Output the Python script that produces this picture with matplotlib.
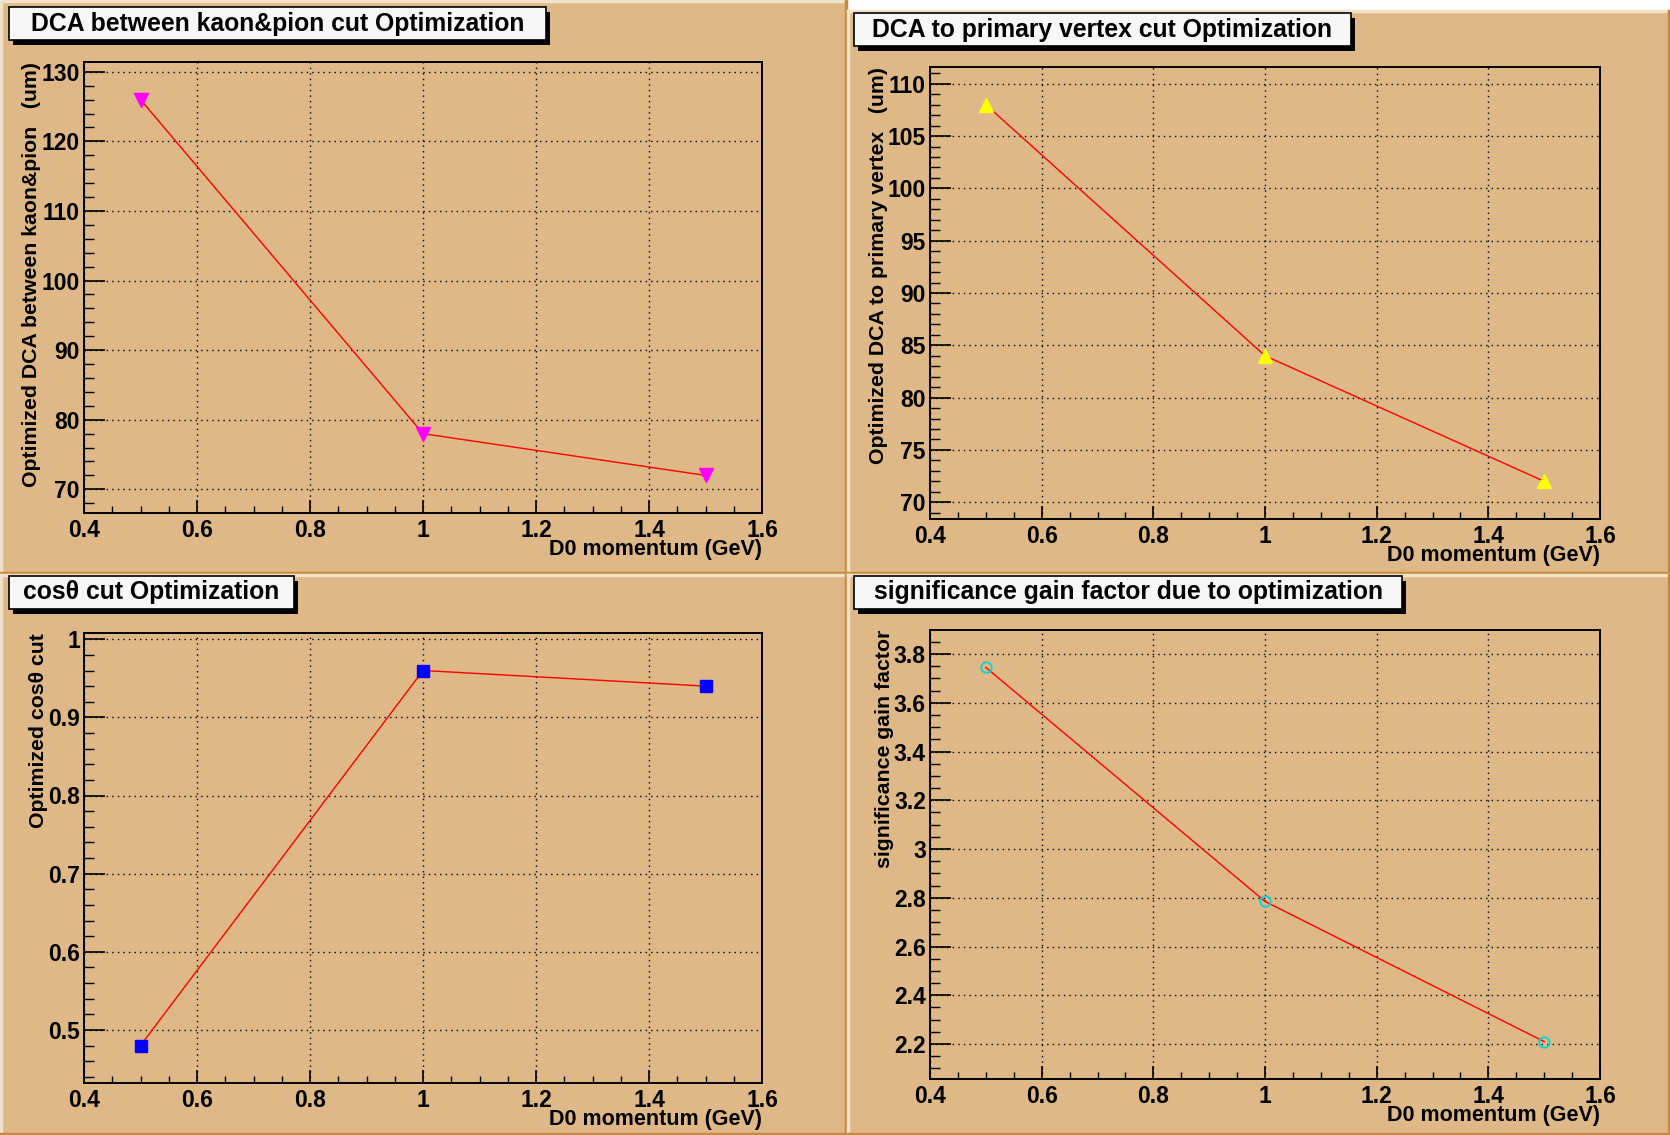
import matplotlib
matplotlib.use("Agg")
import matplotlib.pyplot as plt
from matplotlib.patches import Rectangle
from matplotlib.lines import Line2D
from matplotlib.ticker import MultipleLocator

plt.rcParams['font.family'] = ['Liberation Sans', 'DejaVu Sans']
plt.rcParams['font.weight'] = 'bold'

# D0 momentum bins (GeV)
momentum = [0.5, 1.0, 1.5]

# optimized cut values per momentum bin
dca_kpi = [126, 78, 72]
dca_pv = [108, 84, 72]
cos_theta = [0.48, 0.96, 0.94]
sig_gain = [3.745, 2.785, 2.21]

titles = ['DCA between kaon&pion cut Optimization',
          'DCA to primary vertex cut Optimization',
          'cos\u03b8 cut Optimization',
          'significance gain factor due to optimization']
ylabels = ['Optimized DCA between kaon&pion   (um)',
           'Optimized DCA to primary vertex   (um)',
           'Optimized cos\u03b8 cut',
           'significance gain factor']
xlabel = 'D0 momentum (GeV)'

W, H = 1670, 1135
BG = '#DEB887'
LIGHT = '#F2E2C8'
DARK = '#C98A38'

fig = plt.figure(figsize=(W / 100, H / 100), dpi=100, facecolor=BG)


def fx(x):
    return x / W


def fy(y):
    return 1 - y / H


def pad(x0, y0, x1, y1):
    fig.add_artist(Rectangle((fx(x0), fy(y1)), fx(x1 - x0), (y1 - y0) / H,
                             transform=fig.transFigure, facecolor=BG, edgecolor='none', zorder=0))
    fig.add_artist(Line2D([fx(x0 + 1), fx(x1 - 1)], [fy(y0 + 1)] * 2, color=LIGHT, lw=2.5,
                          transform=fig.transFigure, zorder=1))
    fig.add_artist(Line2D([fx(x0 + 1)] * 2, [fy(y0 + 1), fy(y1 - 1)], color=LIGHT, lw=2.5,
                          transform=fig.transFigure, zorder=1))
    fig.add_artist(Line2D([fx(x0 + 1), fx(x1 - 1)], [fy(y1 - 1)] * 2, color=DARK, lw=2.5,
                          transform=fig.transFigure, zorder=1))
    fig.add_artist(Line2D([fx(x1 - 1)] * 2, [fy(y0 + 1), fy(y1 - 1)], color=DARK, lw=2.5,
                          transform=fig.transFigure, zorder=1))


def title_box(x0, y0, x1, y1, text):
    fig.add_artist(Rectangle((fx(x0 + 4), fy(y1 + 5)), fx(x1 - x0), (y1 - y0) / H,
                             transform=fig.transFigure, facecolor='black', edgecolor='none', zorder=3))
    fig.add_artist(Rectangle((fx(x0), fy(y1)), fx(x1 - x0), (y1 - y0) / H,
                             transform=fig.transFigure, facecolor='#F7F7F7', edgecolor='black',
                             lw=1.2, zorder=4))
    fig.text(fx((x0 + x1) / 2), fy((y0 + y1) / 2), text, ha='center', va='center',
             fontsize=17.8, fontweight='bold', zorder=5)


# white strip above the upper right pad
fig.add_artist(Rectangle((fx(847), fy(10)), fx(W - 847), 10 / H, transform=fig.transFigure,
                         facecolor='white', edgecolor='none', zorder=0))
pad(0, 0, 847, 574)
pad(847, 10, W, 574)
pad(0, 574, 847, H)
pad(847, 574, W, H)

# axes frames in pixel coordinates (left, top, right, bottom)
frames = [(84, 62, 762, 513), (930, 67, 1600, 519), (84, 633, 762, 1083), (930, 630, 1600, 1079)]
series = [dca_kpi, dca_pv, cos_theta, sig_gain]
markers = [dict(marker='v', color='#FF00FF', ms=9.5),
           dict(marker='^', color='#FFFF00', ms=9.5),
           dict(marker='s', color='#0000FF', ms=9),
           dict(marker='o', color='none', mec='#00D8D8', mew=1.3, ms=7.5)]
majors = [10, 5, 0.1, 0.2]
minors = [2, 1, 0.02, 0.05]

for i, (l, t, r, b) in enumerate(frames):
    ax = fig.add_axes([fx(l), fy(b), fx(r - l), (b - t) / H])
    ax.set_facecolor(BG)
    y = series[i]
    span = max(y) - min(y)
    ax.set_ylim(min(y) - 0.1 * span, max(y) + 0.1 * span)
    ax.set_xlim(0.4, 1.6)
    ax.plot(momentum, y, color='#FF0000', lw=1.0, zorder=3)
    mk = dict(markers[i])
    c = mk.pop('color')
    ax.plot(momentum, y, ls='none', mfc=c, mec=mk.pop('mec', c), zorder=4, **mk)

    ax.xaxis.set_major_locator(MultipleLocator(0.2))
    ax.xaxis.set_minor_locator(MultipleLocator(0.05))
    ax.yaxis.set_major_locator(MultipleLocator(majors[i]))
    ax.yaxis.set_minor_locator(MultipleLocator(minors[i]))
    ax.xaxis.set_major_formatter(plt.FuncFormatter(lambda v, p: '{:g}'.format(round(v, 3))))
    ax.yaxis.set_major_formatter(plt.FuncFormatter(lambda v, p: '{:g}'.format(round(v, 3))))

    ax.grid(True, which='major', color='black', ls=(0, (1, 3)), lw=1.0)
    ax.tick_params(axis='x', which='major', direction='in', length=9.5, width=1.2,
                   labelsize=16.5, pad=4, top=False)
    ax.tick_params(axis='x', which='minor', direction='in', length=5, width=1.0, top=False)
    ax.tick_params(axis='y', which='major', direction='in', length=15, width=1.2,
                   labelsize=16.5, pad=3, right=False)
    ax.tick_params(axis='y', which='minor', direction='in', length=7.5, width=1.0, right=False)
    for lab in ax.get_xticklabels() + ax.get_yticklabels():
        lab.set_fontweight('bold')
    for s in ax.spines.values():
        s.set_linewidth(1.4)
        s.set_color('black')

    ax.set_xlabel(xlabel, loc='right', fontsize=15.5, fontweight='bold', labelpad=-2)
    ax.set_ylabel(ylabels[i], loc='top', fontsize=15.3, fontweight='bold', labelpad=0)

title_box(9, 7, 546, 40, titles[0])
title_box(854, 13, 1351, 46, titles[1])
title_box(9, 576, 294, 609, titles[2])
title_box(854, 576, 1402, 609, titles[3])

fig.savefig('out.png', dpi=100, facecolor=BG)
